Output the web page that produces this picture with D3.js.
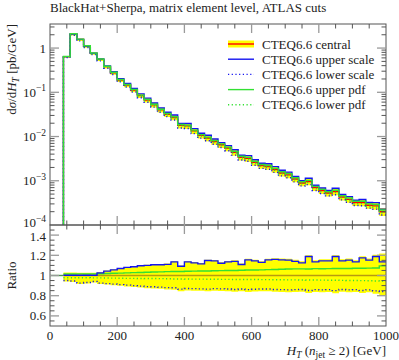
<!DOCTYPE html>
<html>
<head>
<meta charset="utf-8">
<script src="https://cdn.jsdelivr.net/npm/d3@7"></script>
<style>
  body { margin: 0; background: #fff; }
  text { font-family: "Liberation Serif", "DejaVu Serif", serif; fill: #222; }
</style>
</head>
<body>
<div id="chart"></div>
<script>
// bords bas des bins (GeV), largeur 20
const binLow = [40,60,80,100,120,140,160,180,200,220,240,260,280,300,320,340,360,380,400,420,
  440,460,480,500,520,540,560,580,600,620,640,660,680,700,720,740,760,780,800,820,
  840,860,880,900,920,940,960,980]
const binEnd = 1000

// CTEQ6.6 central, pb/GeV
const central = [0.64,2.07,1.57,1.11,0.76,0.555,0.38,0.277,0.19,0.146,0.113,0.084,0.067,0.052,0.040,0.032,
  0.027,0.018,0.0174,0.0134,0.0106,0.0093,0.0077,0.0065,0.0055,0.0044,0.0034,0.0032,0.0026,0.0022,
  0.0021,0.0018,0.0015,0.00136,0.0011,0.00089,0.00096,0.00070,0.00060,0.00053,0.00057,0.00043,
  0.00038,0.00032,0.00032,0.00028,0.00027,0.00020]

// rapports au central
const upScale = [1.003,1.003,1.003,1.003,1.003,1.026,1.043,1.056,1.07,1.08,1.086,1.096,1.10,1.106,1.106,1.11,
  1.135,1.092,1.135,1.125,1.115,1.148,1.145,1.122,1.135,1.14,1.109,1.155,1.145,1.13,1.155,1.16,
  1.155,1.152,1.14,1.125,1.188,1.135,1.145,1.145,1.188,1.145,1.152,1.135,1.175,1.152,1.188,1.135]
const loScale = [0.95,0.945,0.925,0.93,0.94,0.925,0.92,0.915,0.91,0.905,0.9,0.895,0.89,0.888,0.885,0.88,
  0.878,0.865,0.872,0.87,0.868,0.865,0.87,0.868,0.866,0.862,0.866,0.86,0.864,0.866,0.866,0.862,
  0.86,0.858,0.86,0.862,0.852,0.86,0.858,0.86,0.85,0.862,0.858,0.86,0.852,0.858,0.848,0.84]
const upPdf = [1.015,1.015,1.016,1.015,1.016,1.018,1.02,1.022,1.024,1.026,1.028,1.03,1.032,1.034,1.036,1.038,
  1.04,1.04,1.042,1.043,1.044,1.045,1.047,1.048,1.05,1.05,1.052,1.054,1.055,1.056,1.058,1.06,
  1.062,1.065,1.066,1.066,1.065,1.068,1.067,1.068,1.07,1.07,1.07,1.072,1.072,1.073,1.074,1.095]
const loPdf = [0.978,0.978,0.977,0.977,0.976,0.976,0.975,0.974,0.973,0.972,0.972,0.971,0.97,0.97,0.969,0.968,
  0.966,0.966,0.965,0.964,0.964,0.963,0.963,0.962,0.962,0.961,0.961,0.96,0.96,0.959,0.959,0.958,
  0.958,0.957,0.957,0.956,0.955,0.955,0.954,0.953,0.953,0.952,0.951,0.95,0.949,0.948,0.946,0.944]
// bande jaune
const bandHi = [1.03,1.03,1.028,1.028,1.028,1.035,1.05,1.062,1.075,1.085,1.092,1.102,1.107,1.113,1.114,1.12,
  1.142,1.1,1.142,1.133,1.124,1.156,1.153,1.131,1.144,1.15,1.12,1.165,1.156,1.142,1.166,1.172,
  1.168,1.166,1.155,1.14,1.2,1.152,1.16,1.16,1.2,1.16,1.168,1.152,1.19,1.168,1.205,1.218]
const bandLo = [0.94,0.935,0.915,0.92,0.93,0.915,0.91,0.903,0.898,0.892,0.886,0.88,0.875,0.872,0.868,0.862,
  0.86,0.845,0.852,0.85,0.848,0.845,0.85,0.846,0.844,0.84,0.845,0.836,0.842,0.845,0.844,0.84,
  0.836,0.834,0.837,0.84,0.826,0.836,0.834,0.836,0.824,0.838,0.834,0.836,0.826,0.834,0.82,0.8]

const xTicks = [0,200,400,600,800,1000]
const yDecades = [1e-4,1e-3,1e-2,1e-1,1]
const ratioTicks = [0.6,0.8,1,1.2,1.4]
const legendNames = ["CTEQ6.6 central","CTEQ6.6 upper scale","CTEQ6.6 lower scale","CTEQ6.6 upper pdf","CTEQ6.6 lower pdf"]

const width = 399, height = 360
const left = 50, right = 386
const mainTop = 24, mainBottom = 225, ratioBottom = 326

const svg = d3.select("#chart").append("svg")
  .attr("width", width).attr("height", height)

const x = d3.scaleLinear().domain([0, 1000]).range([left, right])
const y = d3.scaleLog().domain([1e-4, 3.5]).range([mainBottom, mainTop])
const yr = d3.scaleLinear().domain([0.5, 1.5]).range([ratioBottom, mainBottom])

const blue = "#1414f0", green = "#33e033", red = "#ff0000", yellow = "#ffff00"

// clips
svg.append("clipPath").attr("id", "clipMain").append("rect")
  .attr("x", left).attr("y", mainTop).attr("width", right - left).attr("height", mainBottom - mainTop)
svg.append("clipPath").attr("id", "clipRatio").append("rect")
  .attr("x", left).attr("y", mainBottom).attr("width", right - left).attr("height", ratioBottom - mainBottom)

// points pour une histo en escalier
function steps(vals) {
  let pts = binLow.map((b, i) => [b, vals[i]])
  pts.push([binEnd, vals[vals.length - 1]])
  return pts
}
function times(r) { return central.map((c, i) => c * r[i]) }

const gMain = svg.append("g").attr("clip-path", "url(#clipMain)")
const gRatio = svg.append("g").attr("clip-path", "url(#clipRatio)")

const lineMain = d3.line().x(d => x(d[0])).y(d => y(Math.max(d[1], 1e-6))).curve(d3.curveStepAfter)
const lineRatio = d3.line().x(d => x(d[0])).y(d => yr(d[1])).curve(d3.curveStepAfter)
const areaMain = d3.area().x(d => x(d[0])).y0(d => y(d[1])).y1(d => y(d[2])).curve(d3.curveStepAfter)
const areaRatio = d3.area().x(d => x(d[0])).y0(d => yr(d[1])).y1(d => yr(d[2])).curve(d3.curveStepAfter)

function bandPts(lo, hi) {
  let pts = binLow.map((b, i) => [b, lo[i], hi[i]])
  pts.push([binEnd, lo[lo.length - 1], hi[hi.length - 1]])
  return pts
}

// panneau principal
gMain.append("path").attr("d", areaMain(bandPts(times(bandLo), times(bandHi))))
  .attr("fill", yellow)

let series = [
  { v: central, color: red, dash: null },
  { v: times(loScale), color: blue, dash: "1.2,2.5" },
  { v: times(loPdf), color: green, dash: "1.2,2.5" },
  { v: times(upScale), color: blue, dash: null },
  { v: times(upPdf), color: green, dash: null }
]
series.forEach(s => {
  let pts = [[binLow[0], 1e-6]].concat(steps(s.v))
  gMain.append("path").attr("d", lineMain(pts))
    .attr("fill", "none").attr("stroke", s.color).attr("stroke-width", 1.4)
    .attr("stroke-dasharray", s.dash)
})

// panneau ratio
gRatio.append("path").attr("d", areaRatio(bandPts(bandLo, bandHi))).attr("fill", yellow)
gRatio.append("line").attr("x1", x(0)).attr("x2", x(40)).attr("y1", yr(1)).attr("y2", yr(1))
  .attr("stroke", "#4f9a4f").attr("stroke-width", 1.4)
gRatio.append("line").attr("x1", x(40)).attr("x2", x(1000)).attr("y1", yr(1)).attr("y2", yr(1))
  .attr("stroke", "#b89a10").attr("stroke-width", 1.4)
let ratioSeries = [
  { v: loScale, color: blue, dash: "1.2,2.5" },
  { v: loPdf, color: green, dash: "1.2,2.5" },
  { v: upPdf, color: green, dash: null },
  { v: upScale, color: blue, dash: null }
]
ratioSeries.forEach(s => {
  gRatio.append("path").attr("d", lineRatio(steps(s.v)))
    .attr("fill", "none").attr("stroke", s.color).attr("stroke-width", 1.4)
    .attr("stroke-dasharray", s.dash)
})

// cadres
const axisColor = "#555", majColor = "#9a9a9a"
svg.append("rect").attr("x", left).attr("y", mainTop).attr("width", right - left).attr("height", mainBottom - mainTop)
  .attr("fill", "none").attr("stroke", axisColor)
svg.append("rect").attr("x", left).attr("y", mainBottom).attr("width", right - left).attr("height", ratioBottom - mainBottom)
  .attr("fill", "none").attr("stroke", axisColor)

const ticks = svg.append("g")
function tick(x1, y1, x2, y2, major) {
  ticks.append("line").attr("x1", x1).attr("y1", y1).attr("x2", x2).attr("y2", y2)
    .attr("stroke", major ? majColor : axisColor).attr("stroke-width", major ? 1.3 : 1)
}

// ticks x (tous les 50 GeV)
d3.range(50, 1000, 50).forEach(v => {
  let major = v % 200 == 0
  let L = major ? 9 : 4.5
  let px = x(v)
  tick(px, mainTop, px, mainTop + L, major)
  tick(px, mainBottom, px, mainBottom - L, major)
  tick(px, mainBottom, px, mainBottom + L, major)
  tick(px, ratioBottom, px, ratioBottom - L, major)
})

// ticks y log
yDecades.forEach(d => {
  if (d > 1e-4) { tick(left, y(d), left + 9, y(d), true); tick(right, y(d), right - 9, y(d), true) }
  d3.range(2, 10).forEach(m => {
    let v = d * m
    if (v < 3.5) { tick(left, y(v), left + 4.5, y(v), false); tick(right, y(v), right - 4.5, y(v), false) }
  })
})

// ticks ratio
d3.range(0.55, 1.5, 0.05).forEach(v => {
  let major = ratioTicks.some(t => Math.abs(t - v) < 1e-6)
  let L = major ? 9 : 4.5
  tick(left, yr(v), left + L, yr(v), major)
  tick(right, yr(v), right - L, yr(v), major)
})

// labels
const fs = "13px", fsSmall = "9.5px"
xTicks.forEach(v => {
  svg.append("text").attr("x", x(v)).attr("y", 340).attr("text-anchor", "middle")
    .style("font-size", fs).text(v)
})
ratioTicks.forEach(v => {
  svg.append("text").attr("x", 46).attr("y", yr(v) + (v == 1.4 ? 5.5 : 4.5)).attr("text-anchor", "end")
    .style("font-size", fs).text(v)
})
yDecades.forEach(d => {
  let e = Math.round(Math.log10(d))
  let t = svg.append("text").attr("x", 46).attr("y", y(d) + (e == -4 ? 2 : 4.5)).attr("text-anchor", "end").style("font-size", fs)
  if (e == 0) { t.text("1") }
  else {
    t.append("tspan").text("10")
    t.append("tspan").attr("dy", -5.5).style("font-size", fsSmall).text("\u2212" + (-e))
  }
})

// titre
svg.append("text").attr("x", left).attr("y", 12).style("font-size", fs)
  .text("BlackHat+Sherpa, matrix element level, ATLAS cuts")

// titre axe x
let xt = svg.append("text").attr("x", right).attr("y", 355).attr("text-anchor", "end").style("font-size", fs)
xt.append("tspan").style("font-style", "italic").text("H")
xt.append("tspan").attr("dy", 2.5).style("font-size", fsSmall).style("font-style", "italic").text("T")
xt.append("tspan").attr("dy", -2.5).text(" (")
xt.append("tspan").style("font-style", "italic").text("n")
xt.append("tspan").attr("dy", 2.5).style("font-size", fsSmall).text("jet")
xt.append("tspan").attr("dy", -2.5).text(" \u2265 2) [GeV]")

// titre axe y
let yt = svg.append("text").attr("transform", "translate(16," + mainTop + ") rotate(-90)")
  .attr("text-anchor", "end").style("font-size", fs)
yt.append("tspan").text("d")
yt.append("tspan").style("font-style", "italic").text("\u03c3")
yt.append("tspan").text("/d")
yt.append("tspan").style("font-style", "italic").text("H")
yt.append("tspan").attr("dy", 2.5).style("font-size", fsSmall).style("font-style", "italic").text("T")
yt.append("tspan").attr("dy", -2.5).text(" [pb/GeV]")

svg.append("text").attr("transform", "translate(16," + yr(1) + ") rotate(-90)")
  .attr("text-anchor", "middle").style("font-size", fs).text("Ratio")

// légende
const leg = svg.append("g")
legendNames.forEach((name, i) => {
  let ly = 44 + i * 15.2
  if (i == 0) {
    leg.append("rect").attr("x", 228).attr("y", ly - 3.5).attr("width", 26).attr("height", 7).attr("fill", yellow)
  }
  let col = i == 0 ? red : (i < 3 ? blue : green)
  leg.append("line").attr("x1", 228).attr("x2", 254).attr("y1", ly).attr("y2", ly)
    .attr("stroke", col).attr("stroke-width", 1.4)
    .attr("stroke-dasharray", (i == 2 || i == 4) ? "1.2,2.5" : null)
  leg.append("text").attr("x", 262).attr("y", ly + 4.5).style("font-size", fs).text(name)
})
</script>
</body>
</html>
